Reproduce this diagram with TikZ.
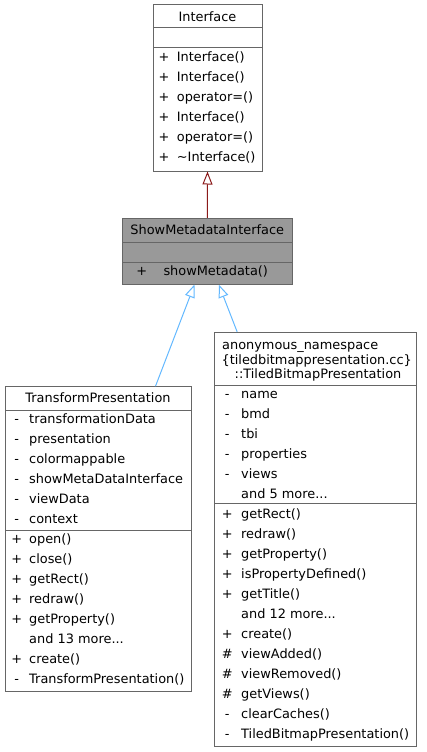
\documentclass[tikz,border=0pt]{standalone}
\usepackage{fontspec}
\setmainfont{DejaVu Sans}
\usetikzlibrary{arrows.meta,calc}

\definecolor{edgegray}{HTML}{666666}
\definecolor{basered}{HTML}{8B1A1A}
\definecolor{derivblue}{HTML}{63B8FF}
\definecolor{basegray}{HTML}{999999}
\newcommand{\tdots}{...}

\begin{document}
\begin{tikzpicture}[x=1pt,y=-1pt,
    class/.style={draw=edgegray,line width=1pt,inner sep=0pt},
    sep/.style={draw=edgegray,line width=1pt},
    txt/.style={inner sep=0pt,text height=9.4pt,text depth=0pt,
      font=\fontsize{12.9}{15}\selectfont},
    vis/.style={txt},
    memb/.style={txt,anchor=west},
    inh/.style={-{Triangle[open,length=13pt,width=10pt]},line width=1pt}]
  \useasboundingbox (0,0) rectangle (426,752);

  % Interface
  \node[class,minimum width=109,minimum height=166] (iface) at (207.5,88) {};
  \draw[sep] (153,28) -- (262,28) (153,48) -- (262,48);
  \node[txt] (ifacename) at (207.5,17) {Interface};
  \foreach \y/\m/\t in {57/+/Interface(),77/+/Interface(),97/+/operator=(),
      117/+/Interface(),137/+/operator=(),157/+/\textasciitilde Interface()}{
    \node[vis] at (164,\y) {\m};
    \node[memb] at (176.7,\y) {\t};
  }

  % ShowMetadataInterface
  \node[class,fill=basegray,minimum width=170,minimum height=65.7] (smi) at (207.3,251.2) {};
  \draw[sep] (122.3,242) -- (292.3,242) (122.3,262.3) -- (292.3,262.3);
  \node[txt] (sminame) at (207.3,230) {ShowMetadataInterface};
  \node[vis] at (141.7,270.7) {+};
  \node[memb] at (163.3,270.7) {showMetadata()};

  % TransformPresentation
  \node[class,minimum width=186,minimum height=305] (tp) at (98,539.2) {};
  \draw[sep] (5,410) -- (191,410) (5,530) -- (191,530);
  \node[txt] (tpname) at (98,398) {TransformPresentation};
  \foreach \y/\m/\t in {419/-/transformationData,439/-/presentation,
      459/-/colormappable,479/-/showMetaDataInterface,499/-/viewData,
      519/-/context,539/+/open(),559/+/close(),579/+/getRect(),
      599/+/redraw(),619/+/getProperty(),639//and 13 more\tdots,
      659/+/create(),679/-/TransformPresentation()}{
    \node[vis] at (16.7,\y) {\m};
    \node[memb] at (29,\y) {\t};
  }

  % TiledBitmapPresentation
  \node[class,minimum width=201.7,minimum height=413.7] (tbp) at (315.8,539.2) {};
  \draw[sep] (215,385) -- (416.7,385) (215,503.3) -- (416.7,503.3);
  \node[txt,anchor=west] (tbpns) at (222,345) {anonymous\_namespace};
  \node[txt] (tbpfile) at (316.7,360) {\{tiledbitmappresentation.cc\}};
  \node[txt] (tbpname) at (318,373.3) {::TiledBitmapPresentation};
  \foreach \y/\m/\t in {393.3/-/name,413.3/-/bmd,433.3/-/tbi,
      453.3/-/properties,473.3/-/views,493.3//and 5 more\tdots,
      513.3/+/getRect(),533.3/+/redraw(),553.3/+/getProperty(),
      573.3/+/isPropertyDefined(),593.3/+/getTitle(),613.3//and 12 more\tdots,
      633.3/+/create(),653.3/\#/viewAdded(),673.3/\#/viewRemoved(),
      693.3/\#/getViews(),713.3/-/clearCaches(),733.3/-/TiledBitmapPresentation()}{
    \node[vis] at (227.3,\y) {\m};
    \node[memb] at (241,\y) {\t};
  }

  % inheritance
  \draw[inh,draw=basered] (smi.north) -- (iface.south);
  \draw[inh,draw=derivblue] ($(tp.north west)+(151,0)$) -- ($(smi.south west)+(72.7,0)$);
  \draw[inh,draw=derivblue] ($(tbp.north west)+(22.7,0)$) -- ($(smi.south west)+(97,0)$);
\end{tikzpicture}
\end{document}
